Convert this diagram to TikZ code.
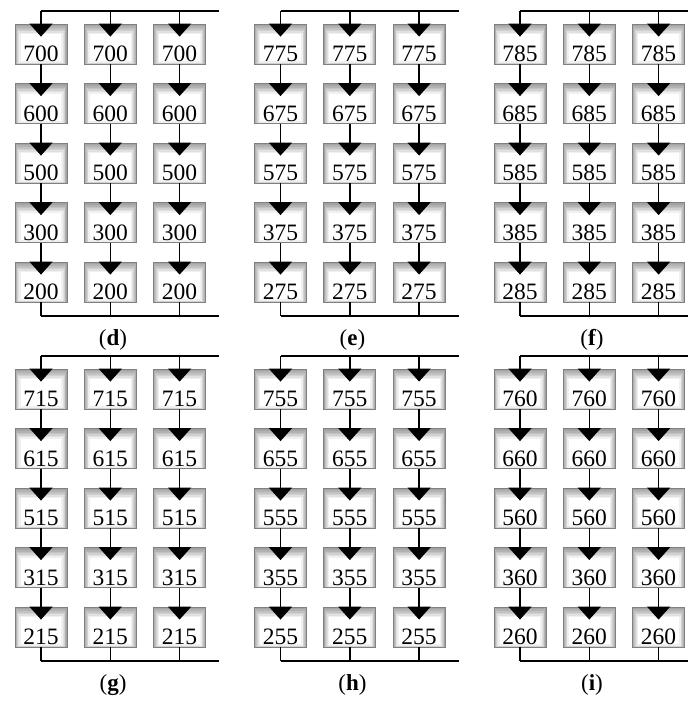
\documentclass[tikz,border=0pt]{standalone}
\usepackage{fontspec}
\setmainfont{Liberation Serif}
\usetikzlibrary{arrows.meta, calc}

\tikzset{
  cell/.style={rectangle, draw=black!50, line width=0.8pt, fill=white,
               minimum width=52pt, minimum height=40pt, inner sep=0pt,
               text height=35pt, text depth=0pt,
               font=\fontsize{23.5}{24}\selectfont,
               path picture={
                 % inner shadow, heavier along the top edge
                 \foreach \k in {0,...,6}{
                   \pgfmathtruncatemacro\shade{42-6*\k}
                   \draw[black!\shade, line width=1.6pt]
                     ($(path picture bounding box.north west)+(0.8*\k pt,-1.6*\k pt)$) rectangle
                     ($(path picture bounding box.south east)+(-0.8*\k pt,0.3*\k pt)$);
                 }
               }},
  link/.style={line width=1.4pt},
  feed/.style={link, -{Triangle[width=23pt,length=13pt]}, shorten >=-13pt},
  tag/.style={font=\fontsize{23}{24}\selectfont}
}

\begin{document}
\begin{tikzpicture}[x=1pt, y=-1pt]
  \useasboundingbox (0,0) rectangle (688,702);

  % one panel per case: name / x of first column / y offset / value added
  \foreach \p/\ox/\oy/\add in {d/41/0/0, e/280.5/0/75, f/520/0/85,
                               g/41/345/15, h/280.5/345/55, i/520/345/60}{
    % supply and return lines
    \coordinate (\p-top) at (\ox,\oy+11);
    \coordinate (\p-topend) at (\ox+178,\oy+11);
    \coordinate (\p-bot) at (\ox,\oy+316);
    \coordinate (\p-botend) at (\ox+178,\oy+316);
    \draw[link] (\p-top) -- (\p-topend);
    \draw[link] (\p-bot) -- (\p-botend);

    \foreach \c in {1,2,3}{
      \foreach \r/\v in {1/700,2/600,3/500,4/300,5/200}{
        \pgfmathtruncatemacro\num{\v+\add}
        \node[cell] (\p-\c-\r) at ({\ox+69.3*(\c-1)},{\oy+44+59.5*(\r-1)}) {\num};
      }
      \coordinate (\p-\c-in) at ({\ox+69.3*(\c-1)},\oy+11);
      \coordinate (\p-\c-out) at ({\ox+69.3*(\c-1)},\oy+316);
      \draw[feed] (\p-\c-in) -- (\p-\c-1);
      \foreach \r [evaluate=\r as \s using int(\r+1)] in {1,...,4}
        \draw[feed] (\p-\c-\r) -- (\p-\c-\s);
      \draw[link] (\p-\c-5) -- (\p-\c-out);
    }

    \node[tag] (\p-tag) at (\ox+72,\oy+340) {(\textbf{\p})};
  }
\end{tikzpicture}
\end{document}
